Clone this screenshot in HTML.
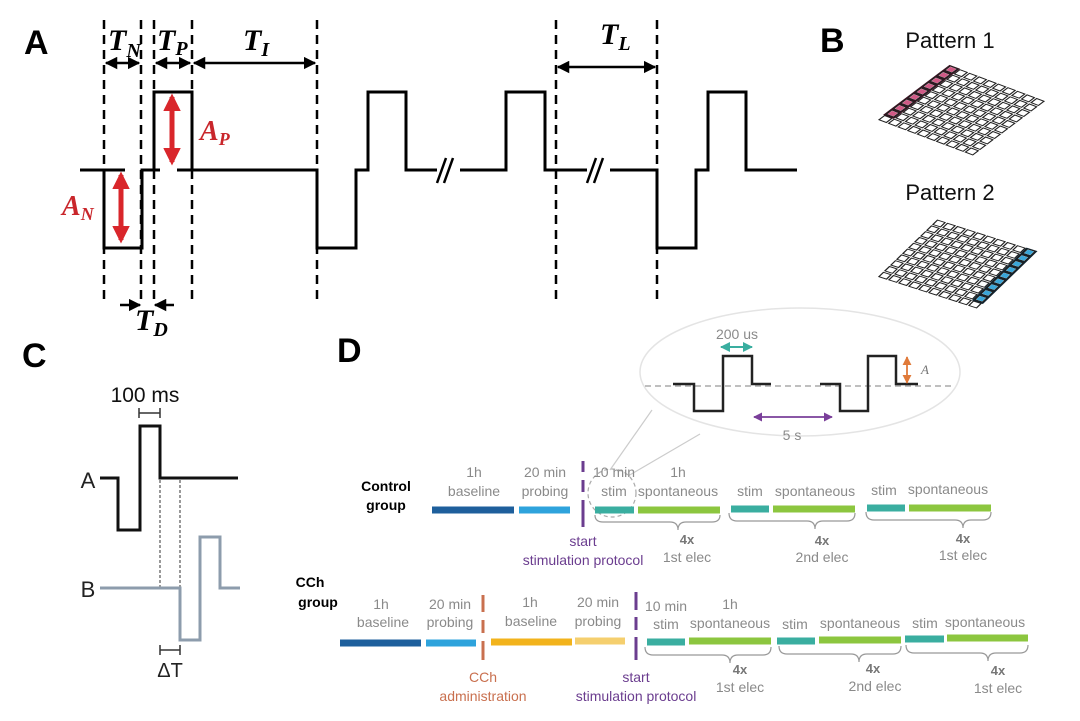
<!DOCTYPE html><html><head><meta charset="utf-8"><style>
body{margin:0;background:#fff}svg{display:block}
.g{font-family:"Liberation Sans",sans-serif;fill:#8a8a8a;font-size:14px;text-anchor:middle}
.s{font-family:"Liberation Serif",serif;font-weight:bold;font-style:italic}
.p{font-family:"Liberation Sans",sans-serif;font-weight:bold;font-size:34px}
</style></head><body>
<svg width="1080" height="721" viewBox="0 0 1080 721" xmlns="http://www.w3.org/2000/svg">
<defs>
<marker id="ah" viewBox="0 0 10 10" refX="9" refY="5" markerWidth="5" markerHeight="5" orient="auto-start-reverse"><path d="M0,0L10,5L0,10z" fill="#000"/></marker>
<marker id="rh" viewBox="0 0 10 10" refX="8" refY="5" markerWidth="3.5" markerHeight="3.5" orient="auto-start-reverse"><path d="M0,0L10,5L0,10z" fill="#d9262b"/></marker>
<marker id="th" viewBox="0 0 10 10" refX="9" refY="5" markerWidth="5" markerHeight="5" orient="auto-start-reverse"><path d="M0,0L10,5L0,10z" fill="#3aaea0"/></marker>
<marker id="ph" viewBox="0 0 10 10" refX="9" refY="5" markerWidth="5" markerHeight="5" orient="auto-start-reverse"><path d="M0,0L10,5L0,10z" fill="#7a3f9a"/></marker>
<marker id="oh" viewBox="0 0 10 10" refX="9" refY="5" markerWidth="5" markerHeight="5" orient="auto-start-reverse"><path d="M0,0L10,5L0,10z" fill="#e07a3a"/></marker>
<g id="row"><rect x="0.12" y="0.12" width="0.76" height="0.76"/><rect x="1.12" y="0.12" width="0.76" height="0.76"/><rect x="2.12" y="0.12" width="0.76" height="0.76"/><rect x="3.12" y="0.12" width="0.76" height="0.76"/><rect x="4.12" y="0.12" width="0.76" height="0.76"/><rect x="5.12" y="0.12" width="0.76" height="0.76"/><rect x="6.12" y="0.12" width="0.76" height="0.76"/><rect x="7.12" y="0.12" width="0.76" height="0.76"/><rect x="8.12" y="0.12" width="0.76" height="0.76"/><rect x="9.12" y="0.12" width="0.76" height="0.76"/></g>
</defs>

<!-- Panel A -->
<text x="24" y="54" class="p">A</text>
<g stroke="#000" stroke-width="2.5" stroke-dasharray="9,6">
<line x1="104" y1="20" x2="104" y2="300"/><line x1="141" y1="20" x2="141" y2="300"/><line x1="154" y1="20" x2="154" y2="300"/><line x1="192" y1="20" x2="192" y2="300"/><line x1="317" y1="20" x2="317" y2="300"/><line x1="556" y1="20" x2="556" y2="300"/><line x1="657" y1="20" x2="657" y2="300"/>
</g>
<g fill="none" stroke="#000" stroke-width="3">
<path d="M80,170H125M104,170V248H142V170H160M177,170H192M154,170V92H192V170H317V248H356V170H368V92H406V170H437M460,170H506V92H545V170H587M610,170H657V248H696V170H708V92H746V170H797"/>
<path d="M437,183L446,158M444,183L453,158M587,183L596,158M594,183L603,158" stroke-width="2.5"/>
</g>
<g stroke="#000" stroke-width="2.5" marker-start="url(#ah)" marker-end="url(#ah)">
<line x1="106" y1="63" x2="139" y2="63"/><line x1="156" y1="63" x2="190" y2="63"/><line x1="194" y1="63" x2="315" y2="63"/><line x1="558" y1="67" x2="655" y2="67"/>
</g>
<g stroke="#000" stroke-width="2.5" marker-end="url(#ah)"><line x1="120" y1="305" x2="140" y2="305"/><line x1="174" y1="305" x2="155" y2="305"/></g>
<g class="s" font-size="30">
<text x="108" y="50">T<tspan font-size="20" dy="7">N</tspan></text>
<text x="157" y="50">T<tspan font-size="20" dy="5">P</tspan></text>
<text x="243" y="50">T<tspan font-size="20" dy="6">I</tspan></text>
<text x="600" y="44">T<tspan font-size="20" dy="6">L</tspan></text>
<text x="135" y="330">T<tspan font-size="20" dy="6">D</tspan></text>
</g>
<g stroke="#d9262b" stroke-width="5" marker-start="url(#rh)" marker-end="url(#rh)"><line x1="172" y1="97" x2="172" y2="162"/><line x1="121" y1="175" x2="121" y2="240"/></g>
<g class="s" font-size="28" fill="#c9262b"><text x="200" y="140">A<tspan font-size="18" dy="5">P</tspan></text><text x="62" y="215">A<tspan font-size="18" dy="5">N</tspan></text></g>

<!-- Panel B -->
<text x="820" y="52" class="p">B</text>
<text x="950" y="48" font-family="Liberation Sans,sans-serif" font-size="22" text-anchor="middle" fill="#111">Pattern 1</text>
<text x="950" y="200" font-family="Liberation Sans,sans-serif" font-size="22" text-anchor="middle" fill="#111">Pattern 2</text>
<g transform="matrix(9.6 3.6 7.3 -5.5 877 120)" fill="#fff" stroke="#222" stroke-width="0.13">
<rect x="-0.05" y="0.9" width="1.1" height="9.1" fill="#3a1020" stroke="none"/>
<use href="#row"/>
<use href="#row" transform="translate(0 1)"/><use href="#row" transform="translate(0 2)"/><use href="#row" transform="translate(0 3)"/><use href="#row" transform="translate(0 4)"/><use href="#row" transform="translate(0 5)"/><use href="#row" transform="translate(0 6)"/><use href="#row" transform="translate(0 7)"/><use href="#row" transform="translate(0 8)"/><use href="#row" transform="translate(0 9)"/>
</g>
<g transform="matrix(9.6 3.6 7.3 -5.5 877 120)" fill="#d05a86" stroke="none">
<rect x="0.2" y="1.2" width="0.6" height="0.6"/><rect x="0.2" y="2.2" width="0.6" height="0.6"/><rect x="0.2" y="3.2" width="0.6" height="0.6"/><rect x="0.2" y="4.2" width="0.6" height="0.6"/><rect x="0.2" y="5.2" width="0.6" height="0.6"/><rect x="0.2" y="6.2" width="0.6" height="0.6"/><rect x="0.2" y="7.2" width="0.6" height="0.6"/><rect x="0.2" y="8.2" width="0.6" height="0.6"/><rect x="0.2" y="9.2" width="0.6" height="0.6"/>
</g>
<g transform="matrix(10 3.2 6 -5.8 877 277)" fill="#fff" stroke="#222" stroke-width="0.13">
<rect x="8.95" y="0.9" width="1.1" height="9.1" fill="#0c2230" stroke="none"/>
<use href="#row"/>
<use href="#row" transform="translate(0 1)"/><use href="#row" transform="translate(0 2)"/><use href="#row" transform="translate(0 3)"/><use href="#row" transform="translate(0 4)"/><use href="#row" transform="translate(0 5)"/><use href="#row" transform="translate(0 6)"/><use href="#row" transform="translate(0 7)"/><use href="#row" transform="translate(0 8)"/><use href="#row" transform="translate(0 9)"/>
</g>
<g transform="matrix(10 3.2 6 -5.8 877 277)" fill="#3aa6d8" stroke="none">
<rect x="9.2" y="1.2" width="0.6" height="0.6"/><rect x="9.2" y="2.2" width="0.6" height="0.6"/><rect x="9.2" y="3.2" width="0.6" height="0.6"/><rect x="9.2" y="4.2" width="0.6" height="0.6"/><rect x="9.2" y="5.2" width="0.6" height="0.6"/><rect x="9.2" y="6.2" width="0.6" height="0.6"/><rect x="9.2" y="7.2" width="0.6" height="0.6"/><rect x="9.2" y="8.2" width="0.6" height="0.6"/><rect x="9.2" y="9.2" width="0.6" height="0.6"/>
</g>

<!-- Panel C -->
<text x="22" y="367" class="p">C</text>
<text x="145" y="402" font-family="Liberation Sans,sans-serif" font-size="21" text-anchor="middle" fill="#111">100 ms</text>
<path d="M139,408V418M160,408V418M139,413H160" stroke="#333" stroke-width="1.5"/>
<text x="88" y="488" font-family="Liberation Sans,sans-serif" font-size="22" text-anchor="middle" fill="#222">A</text>
<path d="M100,478H118V530H140V426H160V478H238" fill="none" stroke="#111" stroke-width="3"/>
<g stroke="#555" stroke-width="1.2" stroke-dasharray="3,2"><line x1="160" y1="480" x2="160" y2="588"/><line x1="180" y1="480" x2="180" y2="588"/></g>
<text x="88" y="597" font-family="Liberation Sans,sans-serif" font-size="22" text-anchor="middle" fill="#222">B</text>
<path d="M100,588H180V640H200V537H220V588H240" fill="none" stroke="#8d9cac" stroke-width="3"/>
<path d="M160,645V655M180,645V655M160,650H180" stroke="#333" stroke-width="1.5"/>
<text x="170" y="677" font-family="Liberation Sans,sans-serif" font-size="20" text-anchor="middle" fill="#222">ΔT</text>

<!-- Panel D -->
<text x="337" y="362" class="p">D</text>
<ellipse cx="800" cy="372" rx="160" ry="64" fill="none" stroke="#e4e4e4" stroke-width="1.5"/>
<circle cx="612" cy="493" r="24" fill="none" stroke="#aaa" stroke-width="1.2" stroke-dasharray="4,3"/>
<g stroke="#ccc" stroke-width="1.2"><line x1="610" y1="470" x2="652" y2="410"/><line x1="628" y1="476" x2="700" y2="434"/></g>
<line x1="645" y1="386" x2="955" y2="386" stroke="#999" stroke-width="1.3" stroke-dasharray="6,4"/>
<path d="M673,384H694V411H723V356H752V384H771M820,384H840V411H868V356H896V384H918" fill="none" stroke="#222" stroke-width="2.5"/>
<line x1="721" y1="347" x2="752" y2="347" stroke="#3aaea0" stroke-width="2" marker-start="url(#th)" marker-end="url(#th)"/>
<text x="737" y="339" class="g" font-size="13">200 us</text>
<line x1="754" y1="417" x2="832" y2="417" stroke="#7a3f9a" stroke-width="1.8" marker-start="url(#ph)" marker-end="url(#ph)"/>
<text x="792" y="440" class="g" font-size="13">5 s</text>
<line x1="907" y1="357" x2="907" y2="383" stroke="#e07a3a" stroke-width="1.8" marker-start="url(#oh)" marker-end="url(#oh)"/>
<text x="921" y="374" font-family="Liberation Serif,serif" font-style="italic" font-size="13" fill="#777">A</text>

<!-- Control group -->
<text x="386" y="491" font-family="Liberation Sans,sans-serif" font-weight="bold" font-size="14" text-anchor="middle">Control</text>
<text x="386" y="510" font-family="Liberation Sans,sans-serif" font-weight="bold" font-size="14" text-anchor="middle">group</text>
<g class="g">
<text x="474" y="477">1h</text><text x="474" y="496">baseline</text>
<text x="545" y="477">20 min</text><text x="545" y="496">probing</text>
<text x="614" y="477">10 min</text><text x="614" y="496">stim</text>
<text x="678" y="477">1h</text><text x="678" y="496">spontaneous</text>
<text x="750" y="496">stim</text><text x="815" y="496">spontaneous</text>
<text x="884" y="495">stim</text><text x="948" y="494">spontaneous</text>
<text x="687" y="562">1st elec</text><text x="822" y="562">2nd elec</text><text x="963" y="560">1st elec</text>
<text x="381" y="609">1h</text><text x="383" y="627">baseline</text>
<text x="450" y="609">20 min</text><text x="450" y="627">probing</text>
<text x="530" y="607">1h</text><text x="531" y="626">baseline</text>
<text x="598" y="607">20 min</text><text x="598" y="626">probing</text>
<text x="666" y="611">10 min</text><text x="666" y="629">stim</text>
<text x="730" y="609">1h</text><text x="730" y="628">spontaneous</text>
<text x="795" y="629">stim</text><text x="860" y="628">spontaneous</text>
<text x="925" y="628">stim</text><text x="985" y="627">spontaneous</text>
<text x="740" y="692">1st elec</text><text x="875" y="691">2nd elec</text><text x="998" y="693">1st elec</text>
</g>
<g font-family="Liberation Sans,sans-serif" font-weight="bold" font-size="13" fill="#777" text-anchor="middle">
<text x="687" y="544">4x</text><text x="822" y="545">4x</text><text x="963" y="543">4x</text>
<text x="740" y="674">4x</text><text x="873" y="673">4x</text><text x="998" y="675">4x</text>
</g>
<g stroke-width="7">
<line x1="432" y1="510" x2="514" y2="510" stroke="#1e5f9c"/><line x1="519" y1="510" x2="570" y2="510" stroke="#2ea3dc"/>
<line x1="595" y1="510" x2="634" y2="510" stroke="#3aaea0"/><line x1="638" y1="510" x2="720" y2="510" stroke="#8cc63f"/>
<line x1="731" y1="509" x2="769" y2="509" stroke="#3aaea0"/><line x1="773" y1="509" x2="855" y2="509" stroke="#8cc63f"/>
<line x1="867" y1="508" x2="905" y2="508" stroke="#3aaea0"/><line x1="909" y1="508" x2="991" y2="508" stroke="#8cc63f"/>
<line x1="340" y1="643" x2="421" y2="643" stroke="#1e5f9c"/><line x1="426" y1="643" x2="476" y2="643" stroke="#2ea3dc"/>
<line x1="491" y1="642" x2="572" y2="642" stroke="#f2b31c"/><line x1="575" y1="641" x2="625" y2="641" stroke="#f5cf6e"/>
<line x1="647" y1="642" x2="685" y2="642" stroke="#3aaea0"/><line x1="689" y1="641" x2="771" y2="641" stroke="#8cc63f"/>
<line x1="777" y1="641" x2="815" y2="641" stroke="#3aaea0"/><line x1="819" y1="640" x2="901" y2="640" stroke="#8cc63f"/>
<line x1="905" y1="639" x2="944" y2="639" stroke="#3aaea0"/><line x1="947" y1="638" x2="1028" y2="638" stroke="#8cc63f"/>
</g>
<g fill="none" stroke="#999" stroke-width="1.2">
<path d="M595,515Q595,522 603,522H670Q678,522 678,530Q678,522 686,522H712Q720,522 720,515"/>
<path d="M729,513Q729,521 737,521H807Q815,521 815,529Q815,521 823,521H847Q855,521 855,513"/>
<path d="M866,512Q866,520 874,520H955Q963,520 963,528Q963,520 971,520H983Q991,520 991,512"/>
<path d="M645,647Q645,655 653,655H722Q730,655 730,663Q730,655 738,655H763Q771,655 771,647"/>
<path d="M779,646Q779,654 787,654H851Q859,654 859,662Q859,654 867,654H893Q901,654 901,646"/>
<path d="M906,645Q906,653 914,653H980Q988,653 988,661Q988,653 996,653H1020Q1028,653 1028,645"/>
</g>
<g stroke="#6b3d8f" stroke-width="3"><line x1="583" y1="461" x2="583" y2="472"/><line x1="583" y1="480" x2="583" y2="492"/><line x1="583" y1="500" x2="583" y2="527"/>
<line x1="636" y1="592" x2="636" y2="610"/><line x1="636" y1="617" x2="636" y2="630"/><line x1="636" y1="637" x2="636" y2="660"/></g>
<g stroke="#c9704f" stroke-width="3"><line x1="483" y1="595" x2="483" y2="612"/><line x1="483" y1="620" x2="483" y2="633"/><line x1="483" y1="641" x2="483" y2="660"/></g>
<g font-family="Liberation Sans,sans-serif" font-size="14" text-anchor="middle" fill="#6b3d8f">
<text x="583" y="546">start</text><text x="583" y="565">stimulation protocol</text>
<text x="636" y="682">start</text><text x="636" y="701">stimulation protocol</text>
</g>
<g font-family="Liberation Sans,sans-serif" font-size="14" text-anchor="middle" fill="#c9704f"><text x="483" y="682">CCh</text><text x="483" y="701">administration</text></g>
<text x="310" y="587" font-family="Liberation Sans,sans-serif" font-weight="bold" font-size="14" text-anchor="middle">CCh</text>
<text x="318" y="607" font-family="Liberation Sans,sans-serif" font-weight="bold" font-size="14" text-anchor="middle">group</text>
</svg>
</body></html>
